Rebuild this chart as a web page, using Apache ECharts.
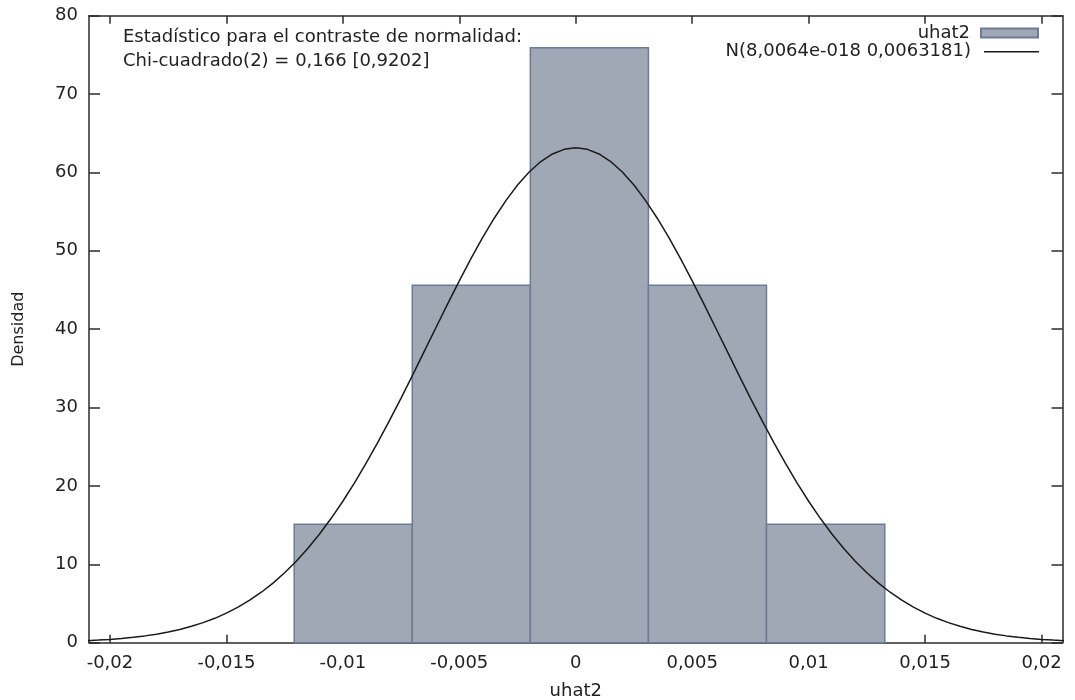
<!DOCTYPE html>
<html>
<head>
<meta charset="utf-8">
<script src="https://cdn.jsdelivr.net/npm/echarts@6/dist/echarts.min.js"></script>
<style>
html,body{margin:0;padding:0;background:#fff;}
#c{width:1075px;height:700px;}
</style>
</head>
<body>
<div id="c"></div>
<script>
// ---- data ----
const histName = 'uhat2';
const curveName = 'N(8,0064e-018 0,0063181)';
const binEdges = [-0.01209, -0.00702, -0.00195, 0.00312, 0.00819, 0.01327];
const density = [15.1, 45.6, 75.9, 45.6, 15.1];
const curveX = [-0.021,-0.0205,-0.020,-0.0195,-0.019,-0.0185,-0.018,-0.0175,-0.017,-0.0165,-0.016,-0.0155,-0.015,-0.0145,-0.014,-0.0135,-0.013,-0.0125,-0.012,-0.0115,-0.011,-0.0105,
                -0.010,-0.0095,-0.009,-0.0085,-0.008,-0.0075,-0.007,-0.0065,-0.006,-0.0055,-0.005,-0.0045,-0.004,-0.0035,-0.003,-0.0025,-0.002,-0.0015,-0.001,-0.0005,0,
                0.0005,0.001,0.0015,0.002,0.0025,0.003,0.0035,0.004,0.0045,0.005,0.0055,0.006,0.0065,0.007,0.0075,0.008,0.0085,0.009,0.0095,0.010,
                0.0105,0.011,0.0115,0.012,0.0125,0.013,0.0135,0.014,0.0145,0.015,0.0155,0.016,0.0165,0.017,0.0175,0.018,0.0185,0.019,0.0195,0.020,0.0205,0.021];
const curveY = [0.25,0.33,0.42,0.54,0.69,0.87,1.09,1.36,1.69,2.09,2.56,3.11,3.77,4.54,5.42,6.44,7.60,8.92,10.40,12.05,13.87,15.87,
                18.05,20.39,22.90,25.55,28.33,31.21,34.18,37.20,40.22,43.23,46.17,49.00,51.68,54.16,56.41,58.39,60.06,61.39,62.36,62.95,63.14,
                62.95,62.36,61.39,60.06,58.39,56.41,54.16,51.68,49.00,46.17,43.23,40.22,37.20,34.18,31.21,28.33,25.55,22.90,20.39,18.05,
                15.87,13.87,12.05,10.40,8.92,7.60,6.44,5.42,4.54,3.77,3.11,2.56,2.09,1.69,1.36,1.09,0.87,0.69,0.54,0.42,0.33,0.25];
const xTicks = [-0.02, -0.015, -0.01, -0.005, 0, 0.005, 0.01, 0.015, 0.02];
const noteLines = ['Estadístico para el contraste de normalidad:', 'Chi-cuadrado(2) = 0,166 [0,9202]'];
const xName = 'uhat2';
const yName = 'Densidad';

// ---- build ----
const histData = density.map((d, i) => [binEdges[i], binEdges[i + 1], d]);
const curveData = curveX.map((x, i) => [x, curveY[i]]);
const FONT = 'DejaVu Sans';
const FS = 18;
const TXT = '#222';
const AX = '#2b2b2b';
const fmtX = v => String(+(+v).toFixed(4)).replace('.', ',');

const chart = echarts.init(document.getElementById('c'), null, {renderer: 'canvas'});
const baseX = {
  type: 'value', min: -0.0209, max: 0.0209,
  axisLine: {show: true, onZero: false, lineStyle: {color: AX, width: 1.5}},
  splitLine: {show: false}
};
const baseY = {
  type: 'value', min: 0, max: 80, interval: 10,
  axisLine: {show: true, onZero: false, lineStyle: {color: AX, width: 1.5}},
  splitLine: {show: false}
};
chart.setOption({
  animation: false,
  backgroundColor: '#fff',
  textStyle: {fontFamily: FONT},
  grid: {left: 89, right: 12.5, top: 15.7, bottom: 57.3, containLabel: false, outerBoundsMode: 'none'},
  title: {
    text: noteLines.join('\n'),
    left: 118, top: 21,
    textStyle: {fontFamily: FONT, fontSize: FS, fontWeight: 'normal', color: TXT, lineHeight: 23.5}
  },
  legend: [
    {
      data: [{name: histName, icon: 'rect'}],
      right: 36, top: 23.5, padding: 0, orient: 'vertical', align: 'right',
      itemWidth: 57, itemHeight: 9,
      textStyle: {fontFamily: FONT, fontSize: FS, color: TXT, lineHeight: 19, padding: [0, 6, 0, 0]},
      selectedMode: false
    },
    {
      data: [{name: curveName, icon: 'rect', itemStyle: {color: '#1a1a1a', borderWidth: 0}}],
      right: 36, top: 42.2, padding: 0, orient: 'vertical', align: 'right',
      itemWidth: 55, itemHeight: 1.5,
      textStyle: {fontFamily: FONT, fontSize: FS, color: TXT, lineHeight: 19, padding: [0, 8, 0, 0]},
      selectedMode: false
    }
  ],
  xAxis: [
    Object.assign({}, baseX, {
      position: 'bottom',
      name: xName, nameLocation: 'middle', nameGap: 40,
      nameTextStyle: {fontFamily: FONT, fontSize: FS, color: TXT},
      axisTick: {show: true, inside: true, length: 8, customValues: xTicks, lineStyle: {color: AX, width: 1.5}},
      axisLabel: {show: true, customValues: xTicks, margin: 12, formatter: fmtX,
        fontFamily: FONT, fontSize: FS, color: TXT}
    }),
    Object.assign({}, baseX, {
      position: 'top',
      axisTick: {show: true, inside: true, length: 8, customValues: xTicks, lineStyle: {color: AX, width: 1.5}},
      axisLabel: {show: false}
    })
  ],
  yAxis: [
    Object.assign({}, baseY, {
      position: 'left',
      name: yName, nameLocation: 'middle', nameGap: 62, nameRotate: 90,
      nameTextStyle: {fontFamily: FONT, fontSize: 16, color: TXT},
      axisTick: {show: true, inside: true, length: 11, lineStyle: {color: AX, width: 1.5}},
      axisLabel: {show: true, margin: 11, fontFamily: FONT, fontSize: FS, color: TXT}
    }),
    Object.assign({}, baseY, {
      position: 'right',
      axisTick: {show: true, inside: true, length: 11, lineStyle: {color: AX, width: 1.5}},
      axisLabel: {show: false}
    })
  ],
  series: [
    {
      name: histName,
      type: 'custom',
      xAxisIndex: 0, yAxisIndex: 0,
      data: histData,
      encode: {x: [0, 1], y: 2},
      itemStyle: {color: '#a0a7b5', borderColor: '#6f7b96', borderWidth: 1.5},
      renderItem: function (params, api) {
        const p0 = api.coord([api.value(0), 0]);
        const p1 = api.coord([api.value(1), api.value(2)]);
        return {
          type: 'rect',
          shape: {x: p0[0], y: p1[1], width: p1[0] - p0[0], height: p0[1] - p1[1]},
          style: api.style()
        };
      },
      z: 1
    },
    {
      name: curveName,
      type: 'line',
      xAxisIndex: 0, yAxisIndex: 0,
      data: curveData,
      smooth: false,
      symbol: 'none',
      showSymbol: false,
      lineStyle: {color: '#1a1a1a', width: 1.5},
      itemStyle: {color: '#1a1a1a'},
      z: 3
    }
  ]
});
</script>
</body>
</html>
